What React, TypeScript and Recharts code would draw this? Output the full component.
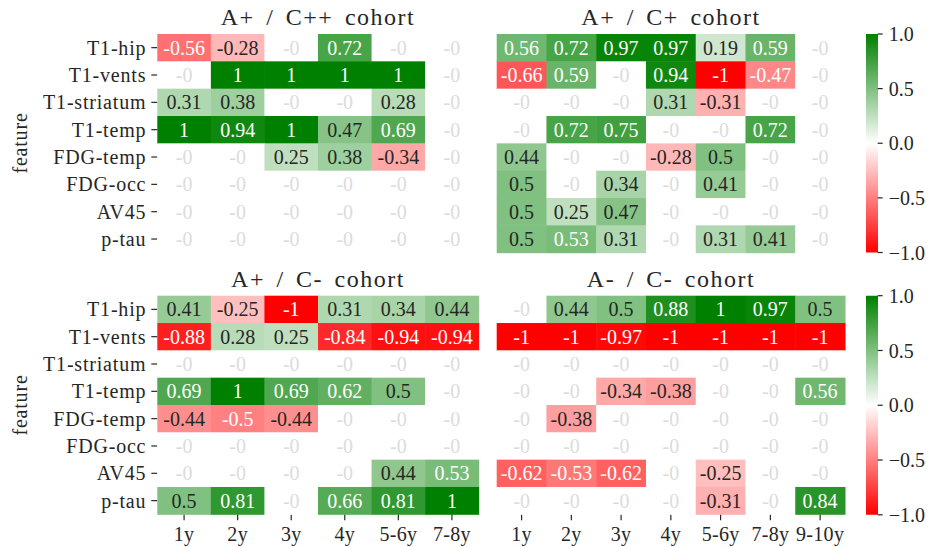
import { ScatterChart, Scatter, XAxis, YAxis, BarChart, Bar } from "recharts";

const FEATURES = ["T1-hip", "T1-vents", "T1-striatum", "T1-temp", "FDG-temp", "FDG-occ", "AV45", "p-tau"];
const YEARS_SHORT = ["1y", "2y", "3y", "4y", "5-6y", "7-8y"];
const YEARS_LONG = ["1y", "2y", "3y", "4y", "5-6y", "7-8y", "9-10y"];

// A+ / C++ cohort
const APCPP = [
  [-0.56, -0.28, 0, 0.72, 0, 0],
  [0, 1, 1, 1, 1, 0],
  [0.31, 0.38, 0, 0, 0.28, 0],
  [1, 0.94, 1, 0.47, 0.69, 0],
  [0, 0, 0.25, 0.38, -0.34, 0],
  [0, 0, 0, 0, 0, 0],
  [0, 0, 0, 0, 0, 0],
  [0, 0, 0, 0, 0, 0],
];

// A+ / C+ cohort
const APCP = [
  [0.56, 0.72, 0.97, 0.97, 0.19, 0.59, 0],
  [-0.66, 0.59, 0, 0.94, -1, -0.47, 0],
  [0, 0, 0, 0.31, -0.31, 0, 0],
  [0, 0.72, 0.75, 0, 0, 0.72, 0],
  [0.44, 0, 0, -0.28, 0.5, 0, 0],
  [0.5, 0, 0.34, 0, 0.41, 0, 0],
  [0.5, 0.25, 0.47, 0, 0, 0, 0],
  [0.5, 0.53, 0.31, 0, 0.31, 0.41, 0],
];

// A+ / C- cohort
const APCM = [
  [0.41, -0.25, -1, 0.31, 0.34, 0.44],
  [-0.88, 0.28, 0.25, -0.84, -0.94, -0.94],
  [0, 0, 0, 0, 0, 0],
  [0.69, 1, 0.69, 0.62, 0.5, 0],
  [-0.44, -0.5, -0.44, 0, 0, 0],
  [0, 0, 0, 0, 0, 0],
  [0, 0, 0, 0, 0.44, 0.53],
  [0.5, 0.81, 0, 0.66, 0.81, 1],
];

// A- / C- cohort
const AMCM = [
  [0, 0.44, 0.5, 0.88, 1, 0.97, 0.5],
  [-1, -1, -0.97, -1, -1, -1, -1],
  [0, 0, 0, 0, 0, 0, 0],
  [0, 0, -0.34, -0.38, 0, 0, 0.56],
  [0, -0.38, 0, 0, 0, 0, 0],
  [0, 0, 0, 0, 0, 0, 0],
  [-0.62, -0.53, -0.62, 0, -0.25, 0, 0],
  [0, 0, 0, 0, -0.31, 0, 0.84],
];

const CBAR_TICKS = [-1, -0.5, 0, 0.5, 1];

const W = 934;
const H = 547;
const FONT = '"Liberation Serif", serif';
const INK = "#262626";

function cellColor(v: number) {
  if (v >= 0) {
    const rb = Math.round(255 * (1 - v));
    const g = Math.round(255 - 127 * v);
    return [rb, g, rb];
  }
  const gb = Math.round(255 * (1 + v));
  return [255, gb, gb];
}

function lum([r, g, b]: number[]) {
  const lin = (c: number) => {
    const s = c / 255;
    return s <= 0.03928 ? s / 12.92 : Math.pow((s + 0.055) / 1.055, 2.4);
  };
  return 0.2126 * lin(r) + 0.7152 * lin(g) + 0.0722 * lin(b);
}

type Box = [number, number, number, number];

function Heatmap({ values, cols, box, showY, showX }: {
  values: number[][]; cols: string[]; box: Box; showY: boolean; showX: boolean;
}) {
  const [x0, y0, x1, y1] = box;
  const xH = showX ? 40 : 0;
  const cw = (x1 - x0) / cols.length;
  const ch = (y1 - y0) / FEATURES.length;
  const data = values.flatMap((row, r) => row.map((v, c) => ({ x: c + 0.5, y: r + 0.5, v })));

  const renderCell = (p: any) => {
    const v = p.payload.v;
    const rgb = cellColor(v);
    const fill = v === 0 ? "#ffffff" : `rgb(${rgb.join(",")})`;
    const txt = v === 0 ? "#dcdcdc" : lum(rgb) > 0.42 ? INK : "#ffffff";
    return (
      <g>
        <rect x={p.cx - cw / 2} y={p.cy - ch / 2} width={cw + 0.5} height={ch + 0.5} fill={fill} />
        <text x={p.cx} y={p.cy} textAnchor="middle" dominantBaseline="central"
          fontFamily={FONT} fontSize={20} fill={txt}>
          {v === 0 ? "-0" : String(v)}
        </text>
      </g>
    );
  };

  return (
    <div style={{ position: "absolute", left: 0, top: 0 }}>
      <ScatterChart width={W} height={H}
        margin={{ left: showY ? 0 : x0, top: y0, right: W - x1, bottom: H - y1 - xH }}>
        <XAxis type="number" dataKey="x" domain={[0, cols.length]} hide={!showX} height={40}
          ticks={cols.map((_, i) => i + 0.5)} interval={0}
          tickFormatter={(t: number) => cols[Math.floor(t)]}
          axisLine={false} tickSize={6} tickMargin={6}
          tickLine={{ stroke: INK, strokeWidth: 1.2 }}
          tick={{ fill: INK, fontSize: 20, fontFamily: FONT, letterSpacing: 0.3 }} />
        <YAxis type="number" dataKey="y" domain={[0, FEATURES.length]} reversed hide={!showY} width={x0}
          ticks={FEATURES.map((_, i) => i + 0.5)} interval={0}
          tickFormatter={(t: number) => FEATURES[Math.floor(t)]}
          axisLine={false} tickSize={6} tickMargin={5}
          tickLine={{ stroke: INK, strokeWidth: 1.2 }}
          tick={{ fill: INK, fontSize: 20, fontFamily: FONT, letterSpacing: 0.8 }} />
        <Scatter data={data} shape={renderCell} isAnimationActive={false} />
      </ScatterChart>
    </div>
  );
}

function Colorbar({ box }: { box: Box }) {
  const [x0, y0, x1, y1] = box;
  return (
    <div style={{ position: "absolute", left: 0, top: 0 }}>
      <BarChart width={W} height={H} data={[{ name: "c", range: [-1, 1] }]}
        margin={{ left: x0, top: y0, right: W - x1 - 50, bottom: H - y1 }}
        barCategoryGap={0}>
        <XAxis dataKey="name" hide />
        <YAxis orientation="right" type="number" domain={[-1, 1]} ticks={CBAR_TICKS} interval={0}
          width={50} axisLine={false} tickSize={5} tickMargin={6}
          tickFormatter={(t: number) => t.toFixed(1).replace("-", "\u2212")}
          tickLine={{ stroke: INK, strokeWidth: 1.2 }}
          tick={{ fill: INK, fontSize: 20, fontFamily: FONT }} />
        <Bar dataKey="range" fill="url(#cbarGrad)" isAnimationActive={false} />
      </BarChart>
    </div>
  );
}

const TL: Box = [157.3, 34, 478.7, 252.7];
const TR: Box = [496.7, 34, 845, 252.7];
const BL: Box = [157.3, 295.7, 478.7, 514.3];
const BR: Box = [496.7, 295.7, 845, 514.3];

const titleStyle = { fontFamily: FONT, fontSize: 24, letterSpacing: 1.5, wordSpacing: 4, fill: INK };

export default function App() {
  return (
    <div style={{ position: "absolute", left: 0, top: 0, width: W, height: H, background: "#fff" }}>
      <svg width={0} height={0} style={{ position: "absolute" }}>
        <defs>
          <linearGradient id="cbarGrad" x1="0" y1="1" x2="0" y2="0">
            <stop offset="0" stopColor="#ff0000" />
            <stop offset="0.5" stopColor="#ffffff" />
            <stop offset="1" stopColor="#008000" />
          </linearGradient>
        </defs>
      </svg>

      <Heatmap values={APCPP} cols={YEARS_SHORT} box={TL} showY showX={false} />
      <Heatmap values={APCP} cols={YEARS_LONG} box={TR} showY={false} showX={false} />
      <Heatmap values={APCM} cols={YEARS_SHORT} box={BL} showY showX />
      <Heatmap values={AMCM} cols={YEARS_LONG} box={BR} showY={false} showX />

      <Colorbar box={[866, 34, 877.7, 252.5]} />
      <Colorbar box={[866, 295.7, 877.7, 514.8]} />

      <svg width={W} height={H} style={{ position: "absolute", left: 0, top: 0, pointerEvents: "none" }}>
        <text x={318} y={25} textAnchor="middle" {...titleStyle}>A+ / C++ cohort</text>
        <text x={671} y={25} textAnchor="middle" {...titleStyle}>A+ / C+ cohort</text>
        <text x={318} y={287} textAnchor="middle" {...titleStyle}>A+ / C- cohort</text>
        <text x={671} y={287} textAnchor="middle" {...titleStyle}>A- / C- cohort</text>
        <text transform="translate(20,143) rotate(-90)" textAnchor="middle" dominantBaseline="central"
          fontFamily={FONT} fontSize={20} letterSpacing={0.8} fill={INK}>feature</text>
        <text transform="translate(20,405) rotate(-90)" textAnchor="middle" dominantBaseline="central"
          fontFamily={FONT} fontSize={20} letterSpacing={0.8} fill={INK}>feature</text>
      </svg>
    </div>
  );
}
